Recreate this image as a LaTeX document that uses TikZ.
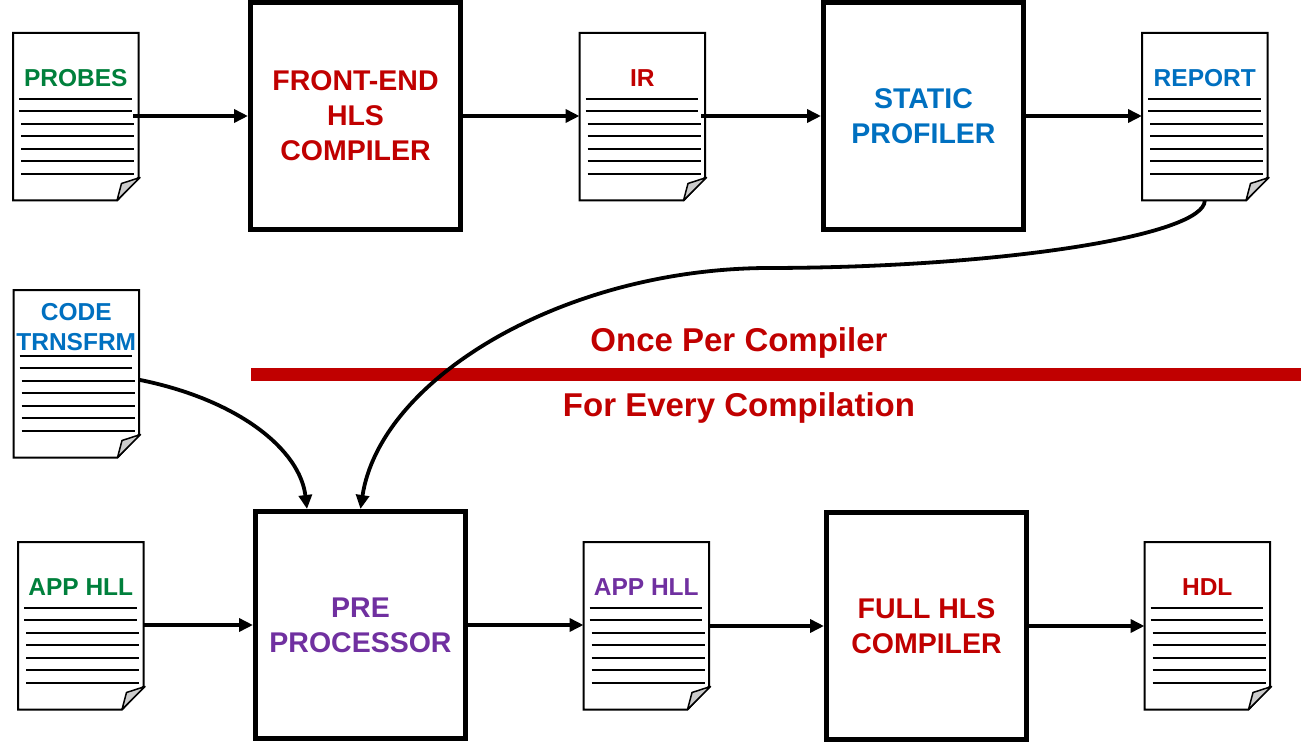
\documentclass[tikz,border=0pt]{standalone}
\usepackage{fontspec}
\setmainfont{Liberation Sans}
\usetikzlibrary{arrows.meta,calc}
\definecolor{cgreen}{RGB}{0,128,60}
\definecolor{cred}{RGB}{192,0,0}
\definecolor{cblue}{RGB}{0,112,192}
\definecolor{cpurple}{RGB}{112,48,160}
\tikzset{
  docnode/.style={minimum width=125.5pt, minimum height=167.5pt, inner sep=0pt, outer sep=0pt},
  docline/.style={draw=black, line width=2pt, fill=white, line join=miter},
  docfold/.style={draw=black, line width=1.5pt, fill=black!20, line join=round},
  docrule/.style={draw=black, line width=2pt},
  doctext/.style={font=\bfseries\fontsize{24.5}{29.5}\selectfont, align=center, inner sep=0pt},
  procbox/.style={draw=black, line width=5pt, minimum height=227pt, inner sep=0pt, align=center,
    font=\bfseries\fontsize{28.5}{35}\selectfont},
  flow/.style={draw=black, line width=4pt, -{Triangle[length=14pt,width=13pt]}},
  curvearrow/.style={draw=black, line width=3.8pt, -{Triangle[length=14pt,width=13pt]}},
  sepbar/.style={draw=cred, line width=13pt},
  septext/.style={font=\bfseries\fontsize{33}{38}\selectfont, text=cred, inner sep=0pt, anchor=base}
}
\newcommand\mydoc[6]{%
  \node[docnode, anchor=north west] (#1) at (#2,#3) {};
  \draw[docline] (#1.north west) -- (#1.north east) -- ([yshift=23pt]#1.south east)
     -- ([xshift=-21.5pt]#1.south east) -- (#1.south west) -- cycle;
  \draw[docfold] ([xshift=-21.5pt]#1.south east) -- ([xshift=-17pt,yshift=17pt]#1.south east)
     -- ([xshift=1.5pt,yshift=23pt]#1.south east) -- cycle;
  \foreach \i in {0,1} \draw[docrule] ($(#1.north west)+(6,66+12.45*\i)$) -- ++(112.7,0);
  \foreach \i in {2,...,6} \draw[docrule] ($(#1.north west)+(8,66+12.45*\i)$) -- ++(113,0);
  \node[doctext, text=#5] (#1-label) at ($(#1.north)+(0,#6)$) {#4};
}
\begin{document}
\begin{tikzpicture}[x=1pt, y=-1pt]
\useasboundingbox (0,0) rectangle (1308,743);

% documents
\mydoc{probes}{13}{33}{PROBES}{cgreen}{45}
\mydoc{ir}{579.5}{33}{IR}{cred}{45}
\mydoc{report}{1142}{33}{REPORT}{cblue}{45}
\mydoc{code}{13.5}{290}{CODE\\TRNSFRM}{cblue}{37}
\mydoc{app1}{18}{542}{APP HLL}{cgreen}{45}
\mydoc{app2}{583.5}{542}{APP HLL}{cpurple}{45}
\mydoc{hdl}{1144.5}{542}{HDL}{cred}{45}

% process boxes
\node[procbox, minimum width=210pt, text=cred] (fe) at (355.5,116) {FRONT-END\\HLS\\COMPILER};
\node[procbox, minimum width=200pt, text=cblue] (sp) at (923.5,116) {STATIC\\PROFILER};
\node[procbox, minimum width=210pt, text=cpurple] (pre) at (360.5,625) {PRE\\PROCESSOR};
\node[procbox, minimum width=200pt, text=cred] (full) at (926.5,626) {FULL HLS\\COMPILER};

% separator
\coordinate (barL) at (251,374.5);
\coordinate (barR) at (1301,374.5);
\draw[sepbar] (barL) -- (barR);
\node[septext] (once) at (739,351.5) {Once Per Compiler};
\node[septext] (every) at (739,416.5) {For Every Compilation};

% straight arrows
\draw[flow] ([xshift=-5.5pt]probes.east |- fe.west) -- (fe.west);
\draw[flow] (fe.east) -- (ir.west |- fe.east);
\draw[flow] ([xshift=-4pt]ir.east |- sp.west) -- (sp.west);
\draw[flow] (sp.east) -- (report.west |- sp.east);
\draw[flow] (app1.east |- pre.west) -- (pre.west);
\draw[flow] (pre.east) -- (app2.west |- pre.east);
\draw[flow] (app2.east |- full.west) -- (full.west);
\draw[flow] (full.east) -- (hdl.west |- full.east);

% curved arrows
\draw[curvearrow] (report.south) .. controls +(0,35) and (1000,268) .. (765,268)
   .. controls (560,270) and (380,380) .. (pre.north);
\draw[curvearrow] ([yshift=-6pt]code.east) .. controls +(100,20) and (300,450) .. ([xshift=-53.5pt]pre.north);
\end{tikzpicture}
\end{document}
